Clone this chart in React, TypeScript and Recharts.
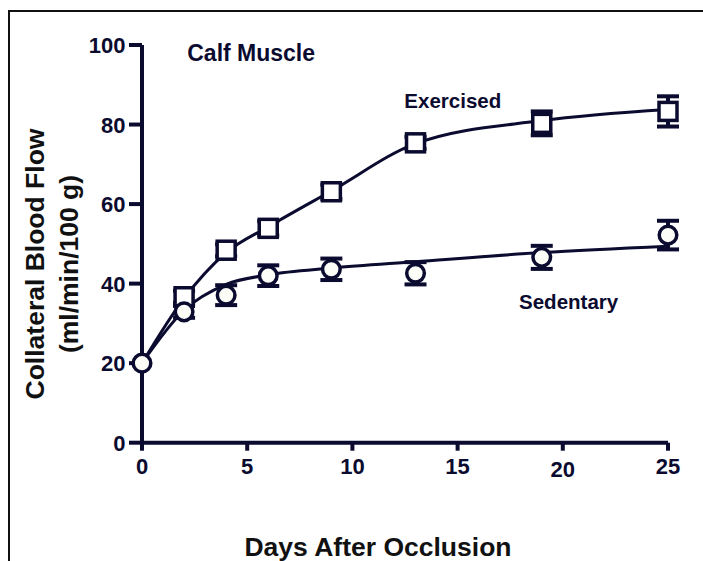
import React from 'react';
import { ComposedChart, Line, Scatter, XAxis, YAxis, ErrorBar, ReferenceDot, Label } from 'recharts';

// ---- data ----
const fitDays = [0, 2, 4, 6, 9, 13, 19, 25];
const exercisedFit = [20, 36.3, 47.8, 54.3, 63.3, 75.2, 81.0, 83.8];
const sedentaryFit = [20, 33.3, 39.8, 42.2, 43.9, 45.5, 47.8, 49.4];

const exercisedDays = [2, 4, 6, 9, 13, 19, 25];
const exercisedValues = [36.7, 48.4, 53.9, 63.1, 75.4, 80.3, 83.3];
const exercisedErrors = [1.5, 1.5, 1.8, 1.8, 1.5, 3.0, 3.8];

const sedentaryDays = [0, 2, 4, 6, 9, 13, 19, 25];
const sedentaryValues = [20, 32.9, 37.1, 42.0, 43.6, 42.6, 46.6, 52.2];
const sedentaryErrors = [0, 1.5, 2.5, 2.6, 2.7, 2.8, 2.9, 3.6];

const xTicks = [0, 5, 10, 15, 20, 25];
const yTicks = [0, 20, 40, 60, 80, 100];

const panelTitle = 'Calf Muscle';
const exercisedLabel = 'Exercised';
const sedentaryLabel = 'Sedentary';
const xTitle = 'Days After Occlusion';
const yTitleLines = ['Collateral Blood Flow', '(ml/min/100 g)'];

// ---- built tables ----
const fitRows = fitDays.map((d, i) => ({ day: d, exFit: exercisedFit[i], sedFit: sedentaryFit[i] }));
const exRows = exercisedDays.map((d, i) => ({ day: d, value: exercisedValues[i], err: exercisedErrors[i] }));
const sedRows = sedentaryDays.map((d, i) => ({ day: d, value: sedentaryValues[i], err: sedentaryErrors[i] }));

// ---- styles ----
const NAVY = '#0b0b30';
const BLACK = '#111111';
const FONT = '"Liberation Sans", Arial, Helvetica, sans-serif';

const renderXTick = (props: any) => {
  const { x, y, payload } = props;
  const shift = payload.value === 20 ? 3 : 0;
  return (
    <text x={x} y={y + 16 + shift} textAnchor="middle" fill={NAVY} fontSize={22} fontWeight="bold" fontFamily={FONT}>
      {payload.value}
    </text>
  );
};

const renderYTick = (props: any) => {
  const { x, y, payload } = props;
  return (
    <text x={x} y={y + 8} textAnchor="end" fill={NAVY} fontSize={22} fontWeight="bold" fontFamily={FONT}>
      {payload.value}
    </text>
  );
};

const renderYTitle = () => (
  <g>
    <text transform="translate(44, 264) rotate(-90)" textAnchor="middle" fill={BLACK} fontSize={26.5} fontWeight="bold" fontFamily={FONT}>
      {yTitleLines[0]}
    </text>
    <text transform="translate(78, 264) rotate(-90)" textAnchor="middle" fill={BLACK} fontSize={26.5} fontWeight="bold" fontFamily={FONT}>
      {yTitleLines[1]}
    </text>
  </g>
);

const renderXTitle = () => (
  <text x={378} y={556} textAnchor="middle" fill={BLACK} fontSize={26.5} fontWeight="bold" fontFamily={FONT}>
    {xTitle}
  </text>
);

const SquareShape = (p: any) => (
  <rect x={p.cx - 9} y={p.cy - 9} width={18} height={18} fill="#ffffff" stroke={NAVY} strokeWidth={3.5} />
);
const CircleShape = (p: any) => (
  <circle cx={p.cx} cy={p.cy} r={8.8} fill="#fdfdf8" stroke={NAVY} strokeWidth={3.5} />
);

const annotation = (text: string, size: number) => (p: any) => (
  <text x={p.cx} y={p.cy} textAnchor="start" fill={NAVY} fontSize={size} fontWeight="bold" fontFamily={FONT}>
    {text}
  </text>
);

export default function App() {
  return (
    <div style={{ position: 'absolute', left: 0, top: 0, width: 703, height: 561, background: '#fff' }}>
      <div
        style={{
          position: 'absolute',
          left: 8,
          top: 10,
          width: 695,
          height: 551,
          borderTop: '2px solid #111',
          borderLeft: '2px solid #111',
          boxSizing: 'border-box',
        }}
      />
      <div style={{ position: 'absolute', left: 0, top: 0 }}>
        <ComposedChart width={703} height={561} data={fitRows} margin={{ top: 45, right: 35, bottom: 88.3, left: 82 }}>
          <XAxis
            type="number"
            dataKey="day"
            domain={[0, 25]}
            ticks={xTicks}
            interval={0}
            height={30}
            tickSize={8}
            tickMargin={7.5}
            axisLine={{ stroke: NAVY, strokeWidth: 4 }}
            tickLine={{ stroke: NAVY, strokeWidth: 4 }}
            tick={renderXTick}
            label={<Label content={renderXTitle} />}
          />
          <YAxis
            type="number"
            domain={[0, 100]}
            ticks={yTicks}
            interval={0}
            width={60}
            tickSize={13}
            tickMargin={3.5}
            axisLine={{ stroke: NAVY, strokeWidth: 4 }}
            tickLine={{ stroke: NAVY, strokeWidth: 4 }}
            tick={renderYTick}
            label={<Label content={renderYTitle} />}
          />
          <Line type="monotone" dataKey="exFit" stroke={NAVY} strokeWidth={3} dot={false} activeDot={false} isAnimationActive={false} />
          <Line type="monotone" dataKey="sedFit" stroke={NAVY} strokeWidth={3} dot={false} activeDot={false} isAnimationActive={false} />
          <Scatter data={exRows} dataKey="value" shape={SquareShape} isAnimationActive={false}>
            <ErrorBar dataKey="err" direction="y" width={11} stroke={NAVY} strokeWidth={4} />
          </Scatter>
          <Scatter data={sedRows} dataKey="value" shape={CircleShape} isAnimationActive={false}>
            <ErrorBar dataKey="err" direction="y" width={11} stroke={NAVY} strokeWidth={4} />
          </Scatter>
          <ReferenceDot x={2.15} y={96} r={0} ifOverflow="visible" shape={annotation(panelTitle, 23)} />
          <ReferenceDot x={12.47} y={84.2} r={0} ifOverflow="visible" shape={annotation(exercisedLabel, 20.5)} />
          <ReferenceDot x={17.92} y={33.5} r={0} ifOverflow="visible" shape={annotation(sedentaryLabel, 20.5)} />
        </ComposedChart>
      </div>
    </div>
  );
}
